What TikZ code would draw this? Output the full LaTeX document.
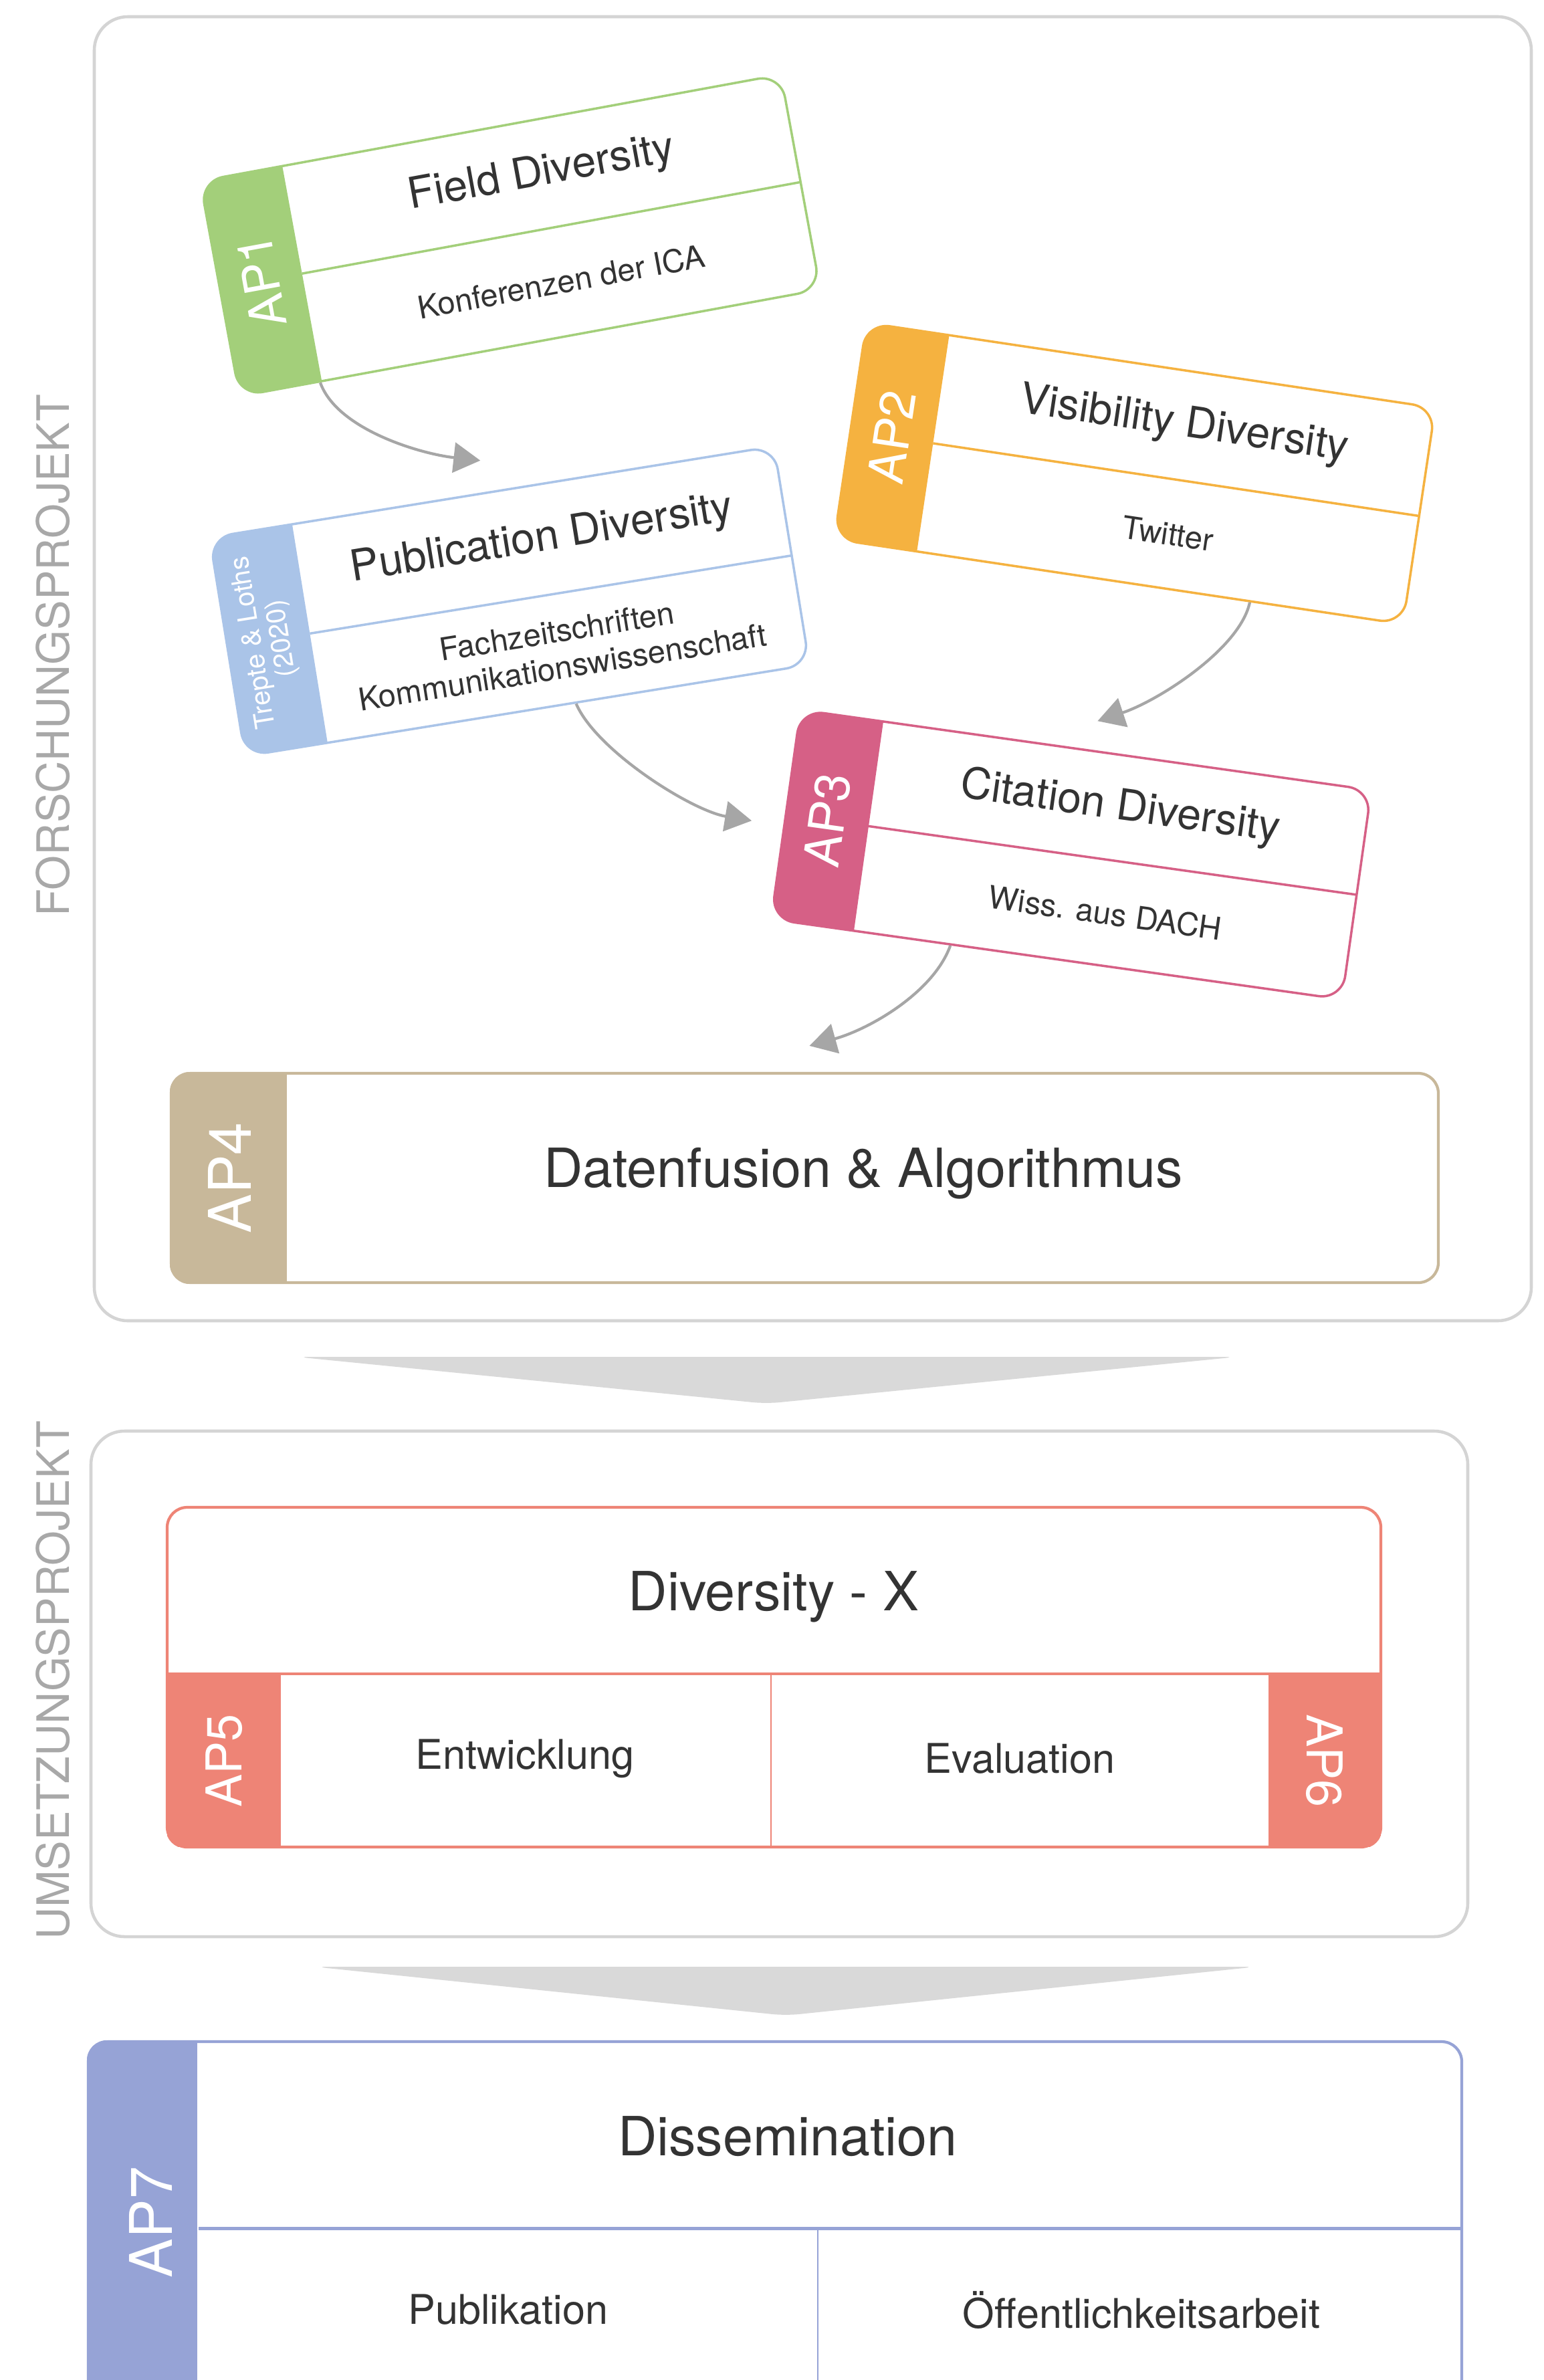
\documentclass[tikz,border=0pt]{standalone}
\usepackage{fontspec}
\setmainfont{TeX Gyre Heros}
\usepackage{tikz}
\usetikzlibrary{calc,arrows.meta}

\definecolor{ap1col}{HTML}{A3CF7A}
\definecolor{ap2col}{HTML}{F5B240}
\definecolor{ap3col}{HTML}{D66086}
\definecolor{pubcol}{HTML}{AAC4E8}
\definecolor{ap4col}{HTML}{C8B89A}
\definecolor{xcol}{HTML}{EE8476}
\definecolor{ap7col}{HTML}{96A3D6}
\definecolor{framegray}{HTML}{D4D4D4}
\definecolor{chevgray}{HTML}{D9D9D9}
\definecolor{flowgray}{HTML}{A6A6A6}
\definecolor{sidegray}{HTML}{A8A8A8}
\definecolor{ink}{HTML}{333333}

\def\tabw{1.25}
\def\cardr{3.5mm}

\tikzset{
  panel/.style={draw=framegray, line width=1.3pt, fill=white, rounded corners=5mm, inner sep=0pt},
  card/.style={fill=white, line width=1pt, rounded corners=\cardr, inner sep=0pt},
  box/.style={fill=white, line width=1.2pt, rounded corners=3mm, inner sep=0pt},
  tablabel/.style={text=white, inner sep=0pt, font=\fontsize{21}{24}\selectfont},
  bigtab/.style={tablabel, font=\fontsize{25}{28}\selectfont},
  cardtitle/.style={text=ink, inner sep=0pt, font=\fontsize{18.3}{20}\selectfont},
  cardsub/.style={text=ink, inner sep=0pt, align=center, font=\fontsize{13.4}{15.5}\selectfont},
  bigtext/.style={text=ink, inner sep=0pt, font=\fontsize{23}{26}\selectfont},
  midtext/.style={text=ink, inner sep=0pt, font=\fontsize{17.4}{20}\selectfont},
  sidelabel/.style={text=sidegray, inner sep=0pt, font=\fontsize{19}{21}\selectfont},
  flow/.style={draw=flowgray, line width=1.2pt, -{Triangle[length=4mm, width=4.5mm]}},
}

% tilted work package card: name, centre, angle, width, height, colour, tab, title, subtitle
\newcommand\apcard[9]{%
  \begin{scope}[shift={#2}, rotate=#3, transform shape]
    \pgfmathsetmacro\cardhw{#4/2}
    \pgfmathsetmacro\cardhh{#5/2}
    \pgfmathsetmacro\cardtx{-\cardhw+\tabw}
    \node[card, draw=#6, minimum width=#4cm, minimum height=#5cm] (#1) at (0,0) {};
    \begin{scope}
      \clip[rounded corners=\cardr] (-\cardhw,-\cardhh) rectangle (\cardhw,\cardhh);
      \fill[#6] (-\cardhw,-\cardhh) rectangle (\cardtx,\cardhh);
    \end{scope}
    \draw[#6, line width=1pt] (\cardtx,0) -- (\cardhw,0);
    \node[tablabel, rotate=90] (#1-tab) at ({-\cardhw+\tabw/2},0) {#7};
    \node[cardtitle] (#1-title) at ({\tabw/2},{-\cardhh/2}) {#8};
    \node[cardsub] (#1-sub) at ({\tabw/2},{\cardhh/2}) {#9};
  \end{scope}}

\begin{document}
\begin{tikzpicture}[x=1cm, y=-1cm]
\useasboundingbox (0,0) rectangle (23.08,35.59);
\clip (0,0) rectangle (23.08,35.59);
\fill[white] (0,0) rectangle (23.08,35.59);

% the two project frames
\node[panel, minimum width=21.49cm, minimum height=19.5cm] (forschung) at (12.155,10.0) {};
\node[panel, minimum width=20.59cm, minimum height=7.56cm] (umsetzung) at (11.655,25.18) {};
\node[sidelabel, rotate=90] (forschung-label) at (0.79,9.8) {FORSCHUNGSPROJEKT};
\node[sidelabel, rotate=90] (umsetzung-label) at (0.79,25.13) {UMSETZUNGSPROJEKT};

% wide chevrons between the stages
\fill[chevgray, rounded corners=2mm] (4.43,20.29) -- (18.50,20.29) -- (11.46,20.99) -- cycle;
\fill[chevgray, rounded corners=2mm] (4.70,29.41) -- (18.79,29.41) -- (11.75,30.14) -- cycle;

\apcard{ap1}{(7.63,3.52)}{10.4}{8.83}{3.27}{ap1col}{AP1}{Field Diversity}{Konferenzen der ICA}
\apcard{ap2}{(16.97,7.08)}{-8.5}{8.60}{3.27}{ap2col}{AP2}{Visibility Diversity}{Twitter}
\apcard{pub}{(7.62,8.99)}{9.2}{8.55}{3.31}{pubcol}%
  {\fontsize{11.5}{14}\selectfont\begin{tabular}{@{}c@{}}Trepte \& Loths\\[-2pt](2020)\end{tabular}}%
  {Publication Diversity}{Fachzeitschriften\\Kommunikationswissenschaft}
\apcard{ap3}{(16.02,12.78)}{-8.0}{8.62}{3.16}{ap3col}{AP3}{Citation Diversity}{Wiss. aus DACH}

% AP4
\node[box, draw=ap4col, minimum width=18.95cm, minimum height=3.13cm] (ap4) at (12.035,17.615) {};
\begin{scope}
  \clip[rounded corners=3mm] (ap4.north west) rectangle (ap4.south east);
  \fill[ap4col] (ap4.north west) rectangle ([xshift=1.75cm]ap4.south west);
\end{scope}
\node[bigtab, rotate=90] (ap4-tab) at (3.435,17.615) {AP4};
\node[bigtext] (ap4-text) at (12.91,17.55) {Datenfusion \& Algorithmus};

\draw[flow] ($(ap1.south west)!0.14!(ap1.south east)$) .. controls +(0.25,0.7) and +(-0.9,-0.1) .. ($(pub.north west)!0.48!(pub.north east)+(0,-0.48)$);
\draw[flow] ($(ap2.south west)!0.73!(ap2.south east)$) .. controls +(-0.15,0.7) and +(0.9,-0.3) .. ($(ap3.north west)!0.52!(ap3.north east)+(0,-0.44)$);
\draw[flow] ($(pub.south west)!0.586!(pub.south east)$) .. controls +(0.3,0.7) and +(-0.9,-0.15) .. ($(ap3.north west)!0.53!(ap3.south west)+(-0.48,0)$);
\draw[flow] ($(ap3.south west)!0.315!(ap3.south east)$) .. controls +(-0.25,0.7) and +(0.9,-0.25) .. ($(ap4.north)+(0.07,-0.39)$);

% Diversity - X with AP5 and AP6
\node[box, draw=xcol, minimum width=18.15cm, minimum height=5.08cm] (divx) at (11.575,25.08) {};
\begin{scope}
  \clip[rounded corners=3mm] (divx.north west) rectangle (divx.south east);
  \fill[xcol] (2.50,25.03) rectangle (4.20,27.62);
  \fill[xcol] (18.97,25.03) rectangle (20.65,27.62);
\end{scope}
\draw[xcol, line width=1.2pt] (2.50,25.03) -- (20.65,25.03);
\draw[xcol, line width=0.8pt] (11.53,25.03) -- (11.53,27.62);
\node[bigtext] (divx-title) at (11.57,23.88) {Diversity - X};
\node[midtext] (ap5-text) at (7.85,26.3) {Entwicklung};
\node[midtext] (ap6-text) at (15.25,26.3) {Evaluation};
\node[tablabel, rotate=90] (ap5-tab) at (3.35,26.33) {AP5};
\node[tablabel, rotate=-90] (ap6-tab) at (19.81,26.33) {AP6};

% AP7
\node[box, draw=ap7col, minimum width=20.54cm, minimum height=5.67cm] (ap7) at (11.59,33.365) {};
\begin{scope}
  \clip[rounded corners=3mm] (ap7.north west) rectangle (ap7.south east);
  \fill[ap7col] (ap7.north west) rectangle ([xshift=1.65cm]ap7.south west);
\end{scope}
\draw[ap7col, line width=1.4pt] (2.97,33.32) -- (21.86,33.32);
\draw[ap7col, line width=0.6pt] (12.23,33.32) -- (12.23,36.2);
\node[bigtab, rotate=90] (ap7-tab) at (2.25,33.23) {AP7};
\node[bigtext] (ap7-text) at (11.78,31.95) {Dissemination};
\node[midtext] (publ-text) at (7.60,34.54) {Publikation};
\node[midtext] (oeff-text) at (17.07,34.54) {Öffentlichkeitsarbeit};
\end{tikzpicture}
\end{document}
